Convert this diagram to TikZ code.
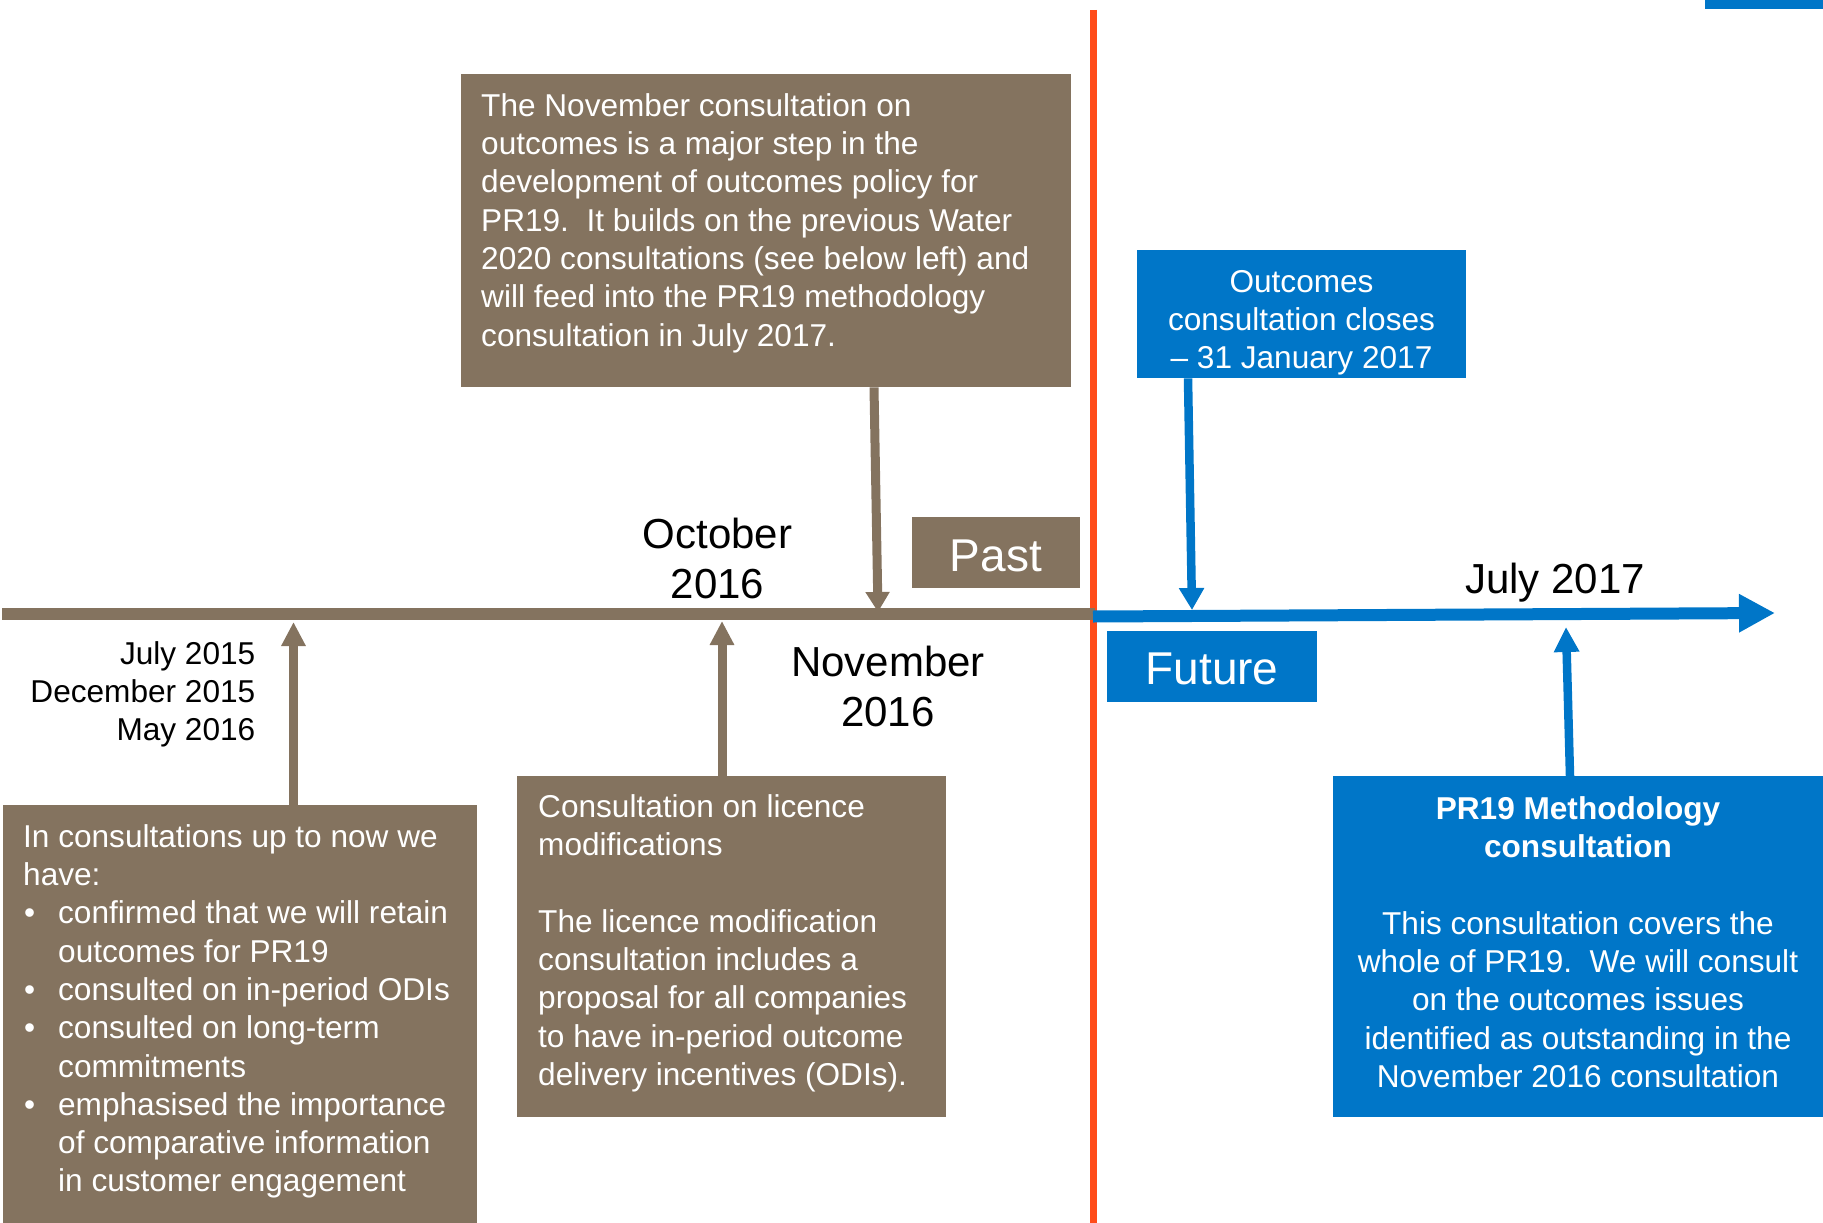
\documentclass[tikz,border=0pt]{standalone}
\usepackage{fontspec}
\setmainfont{Liberation Sans}
\usetikzlibrary{arrows.meta}
\definecolor{tlbrown}{RGB}{132,115,95}
\definecolor{tlblue}{RGB}{0,118,200}
\definecolor{tlorange}{RGB}{255,76,26}
\begin{document}
\begin{tikzpicture}[x=1pt,y=-1pt,
  boxfont/.style={font=\fontsize{31.6}{38.3}\selectfont},
  bigfont/.style={font=\fontsize{42}{50.5}\selectfont},
  labfont/.style={font=\fontsize{46}{55}\selectfont},
  brownbox/.style={fill=tlbrown, draw=none, inner sep=0pt, anchor=north west},
  bluebox/.style={fill=tlblue, draw=none, inner sep=0pt, anchor=north west},
  boxtext/.style={text=white, inner sep=0pt, boxfont},
  darktext/.style={text=black, inner sep=0pt},
  brownarrow/.style={draw=tlbrown, line width=9pt, -{Triangle[length=24pt,width=23pt]}},
  bluearrow/.style={draw=tlblue, line width=8.5pt, -{Triangle[length=23pt,width=24pt]}},
]
\useasboundingbox (0,0) rectangle (1823,1223);

% top-right bar
\fill[tlblue] (1705,0) rectangle (1823,9);

% divider
\coordinate (divtop) at (1093,10);
\coordinate (divbot) at (1093,1223);
\draw[tlorange, line width=7pt] (divtop) -- (divbot);

% boxes
\node[brownbox, minimum width=610pt, minimum height=313pt] (nov) at (461,74) {};
\node[brownbox, minimum width=474pt, minimum height=418pt] (leftbox) at (3,805) {};
\node[brownbox, minimum width=429pt, minimum height=341pt] (licbox) at (517,776) {};
\node[bluebox, minimum width=329pt, minimum height=128pt] (outc) at (1137,250) {};
\node[bluebox, minimum width=490pt, minimum height=341pt] (pr19) at (1333,776) {};

% box texts
\node[boxtext, anchor=north west, align=left] (novtext) at (481,89.2)
 {\strut The November consultation on\\
  outcomes is a major step in the\\
  development of outcomes policy for\\
  PR19.\ \ It builds on the previous Water\\
  2020 consultations (see below left) and\\
  will feed into the PR19 methodology\\
  consultation in July 2017.};

\node[boxtext, anchor=north west, align=left] (lefttext) at (23,820.2)
 {\strut In consultations up to now we\\
  have:\\
  \makebox[35pt][l]{\hspace{1pt}•}confirmed that we will retain\\
  \hspace*{35pt}outcomes for PR19\\
  \makebox[35pt][l]{\hspace{1pt}•}consulted on in-period ODIs\\
  \makebox[35pt][l]{\hspace{1pt}•}consulted on long-term\\
  \hspace*{35pt}commitments\\
  \makebox[35pt][l]{\hspace{1pt}•}emphasised the importance\\
  \hspace*{35pt}of comparative information\\
  \hspace*{35pt}in customer engagement};

\node[boxtext, anchor=north west, align=left] (lictext) at (538,790.2)
 {\strut Consultation on licence\\
  modifications\\[38.3pt]
  The licence modification\\
  consultation includes a\\
  proposal for all companies\\
  to have in-period outcome\\
  delivery incentives (ODIs).};

\node[boxtext, anchor=north, align=center] (outctext) at (1301.5,265.2)
 {\strut Outcomes\\
  consultation closes\\
  – 31 January 2017};

\node[boxtext, anchor=north, align=center] (pr19text) at (1578,792.2)
 {\strut\textbf{PR19 Methodology}\\
  \textbf{consultation}\\[38.3pt]
  This consultation covers the\\
  whole of PR19.\ \ We will consult\\
  on the outcomes issues\\
  identified as outstanding in the\\
  November 2016 consultation};

% date labels
\node[darktext, boxfont, anchor=north east, align=right] (dates) at (255.5,637.2)
 {\strut July 2015\\December 2015\\May 2016};
\node[darktext, bigfont, anchor=north, align=center] (oct) at (717.5,512.65)
 {\strut October\\2016};
\node[darktext, bigfont, anchor=north, align=center] (novlab) at (888,640.65)
 {\strut November\\2016};
\node[darktext, bigfont, anchor=base] (jul) at (1555,593) {July 2017};

% past / future
\node[fill=tlbrown, text=white, labfont, inner sep=0pt, minimum width=168pt,
      minimum height=71pt, text height=37pt, text depth=0pt] (past) at (996,552.5) {Past};
\node[fill=tlblue, text=white, labfont, inner sep=0pt, minimum width=210pt,
      minimum height=71pt, text height=35pt, text depth=0pt] (future) at (1212,666.5) {Future};

% arrow coordinates
\coordinate (lt1) at (293.5,622);
\coordinate (lt2) at (722,621);
\coordinate (nf) at (874,0);
\coordinate (nt) at (878,612);
\coordinate (of) at (1188,0);
\coordinate (ot) at (1192,610);
\coordinate (pt) at (1566,627);
\coordinate (pf) at (1570,0);
\coordinate (tlstart) at (2,614);
\coordinate (tlmid) at (1095,614);
\coordinate (bmid) at (1093,616.5);
\coordinate (tlend) at (1775,613);

% down arrow from November box (behind timeline)
\draw[brownarrow, -{Triangle[length=20pt,width=23pt]}] (nov.south -| nf) -- (nt);

% timelines
\draw[tlbrown, line width=12pt] (tlstart) -- (tlmid);
\draw[tlblue, line width=12pt, -{Triangle[length=36pt,width=36pt]}] (bmid) -- (tlend);

% up arrows
\draw[brownarrow] (leftbox.north -| lt1) -- (lt1);
\draw[brownarrow] (licbox.north -| lt2) -- (lt2);
\draw[bluearrow, -{Triangle[length=22pt,width=24pt]}] (outc.south -| of) -- (ot);
\draw[bluearrow, -{Triangle[length=25pt,width=24pt]}] (pr19.north -| pf) -- (pt);
\end{tikzpicture}
\end{document}
